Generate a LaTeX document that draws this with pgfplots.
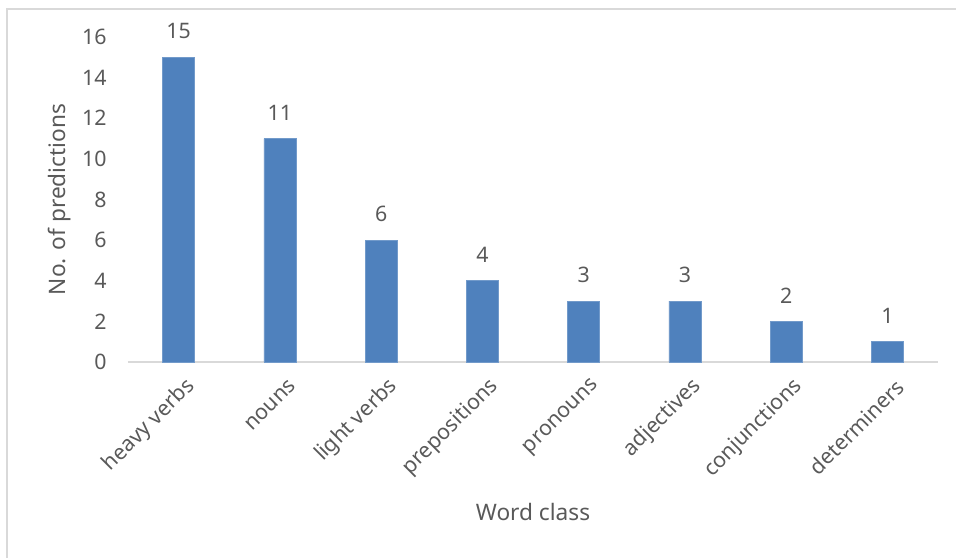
\documentclass[border=0pt]{standalone}
\usepackage{pgfplots}
\pgfplotsset{compat=1.18}
\usepackage{fontspec}
\setmainfont{Noto Sans}
\definecolor{barblue}{HTML}{4F81BD}
\definecolor{txt}{HTML}{595959}
\definecolor{framec}{HTML}{D9D9D9}
\begin{document}
\begin{tikzpicture}
\useasboundingbox (-96pt,-146.25pt) rectangle (621pt,271.5pt);
\draw[framec, line width=1.2pt] (-90.75pt,-150pt) -- (-90.75pt,264.75pt) -- (625pt,264.75pt);
\begin{axis}[
  at={(0pt,0pt)}, anchor=south west,
  scale only axis, width=607.5pt, height=243.75pt,
  ybar, bar width=24pt,
  ymin=0, ymax=16, ytick={0,2,...,16},
  xmin=-0.5, xmax=7.5, xtick={0,...,7},
  xticklabels={heavy verbs,nouns,light verbs,prepositions,pronouns,adjectives,conjunctions,determiners},
  /pgf/number format/assume math mode=true,
  axis x line*=bottom, axis y line*=left,
  y axis line style={draw=none},
  x axis line style={framec, line width=1.5pt},
  major tick length=0pt, tick style={draw=none},
  tick label style={font=\fontsize{16}{19}\selectfont, text=txt},
  x tick label style={rotate=45, anchor=east, yshift=-18pt, xshift=-1pt},
  y tick label style={xshift=-12.5pt},
  xlabel={Word class}, ylabel={No. of predictions},
  label style={font=\fontsize{17}{20}\selectfont, text=txt},
  xlabel style={at={(axis description cs:0.5,-0.4615)}, anchor=center},
  ylabel style={at={(axis description cs:-0.084,0.5)}, anchor=center},
  nodes near coords, point meta=y,
  nodes near coords style={font=\fontsize{16}{19}\selectfont, text=txt, yshift=10pt},
  clip=false,
]
\addplot[fill=barblue, draw=barblue!80!white, line width=0.5pt] coordinates {(0,15) (1,11) (2,6) (3,4) (4,3) (5,3) (6,2) (7,1)};
\end{axis}
\end{tikzpicture}
\end{document}
